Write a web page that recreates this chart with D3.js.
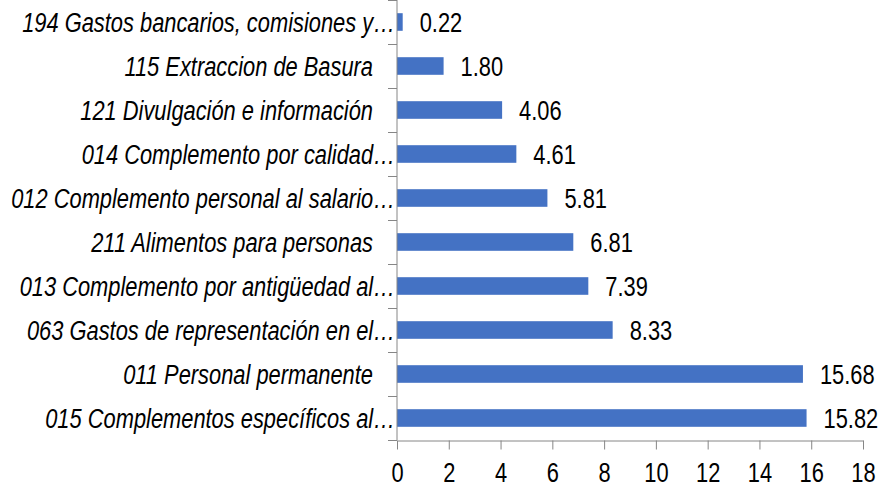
<!DOCTYPE html>
<html>
<head>
<meta charset="utf-8">
<script src="https://cdn.jsdelivr.net/npm/d3@7"></script>
<style>
  body { margin: 0; background: #fff; }
  text { font-family: "Liberation Sans", Arial, sans-serif; fill: #000; }
</style>
</head>
<body>
<div class="chart"></div>
<script>
// categories top to bottom
var categories = [
  '194 Gastos bancarios, comisiones y…',
  '115 Extraccion de Basura',
  '121 Divulgación e información',
  '014 Complemento por calidad…',
  '012 Complemento personal al salario…',
  '211 Alimentos para personas',
  '013 Complemento por antigüedad al…',
  '063 Gastos de representación en el…',
  '011 Personal permanente',
  '015 Complementos específicos al…'
];
var values = [0.22, 1.80, 4.06, 4.61, 5.81, 6.81, 7.39, 8.33, 15.68, 15.82];
var xTicks = [0, 2, 4, 6, 8, 10, 12, 14, 16, 18];

var margin = { top: 0, right: 18, bottom: 49, left: 397 };
var width = 881 - margin.left - margin.right;
var height = 489 - margin.top - margin.bottom;

// the original font is a narrow one, squeeze Liberation Sans to match
var fontSize = '27px';
var squeeze = 'scale(0.81,1)';

var svg = d3.select('.chart')
  .append('svg')
  .attr('width', 881)
  .attr('height', 489)
  .append('g')
  .attr('transform', `translate(${margin.left}, ${margin.top})`);

var xScale = d3.scaleLinear().domain([0, 18]).range([0, 466]);
var yScale = d3.scaleBand().domain(categories).range([0, height]).paddingInner(0.6).paddingOuter(0.3);

var axisColor = '#868686';

// bars
svg.selectAll('.bar')
  .data(values)
  .enter()
  .append('rect')
  .attr('class', 'bar')
  .attr('x', 0)
  .attr('y', (d, i) => yScale(categories[i]))
  .attr('width', d => xScale(d))
  .attr('height', yScale.bandwidth())
  .style('fill', '#4472C4');

// value labels
svg.selectAll('.val')
  .data(values)
  .enter()
  .append('text')
  .attr('class', 'val')
  .attr('transform', (d, i) =>
    `translate(${xScale(d) + 17},${yScale(categories[i]) + yScale.bandwidth() / 2}) ${squeeze}`)
  .attr('dy', '0.36em')
  .style('font-size', fontSize)
  .text(d => d.toFixed(2));

// category labels
svg.selectAll('.cat')
  .data(categories)
  .enter()
  .append('text')
  .attr('class', 'cat')
  .attr('transform', d =>
    `translate(${d.endsWith('…') ? -2 : -24},${yScale(d) + yScale.bandwidth() / 2}) ${squeeze}`)
  .attr('dy', '0.36em')
  .style('text-anchor', 'end')
  .style('font-style', 'italic')
  .style('font-size', fontSize)
  .text(d => d);

// left axis line + category ticks
var step = height / categories.length;
svg.append('line')
  .attr('x1', 0).attr('x2', 0)
  .attr('y1', 0).attr('y2', height)
  .style('stroke', axisColor);
svg.selectAll('.ytick')
  .data(d3.range(categories.length + 1))
  .enter()
  .append('line')
  .attr('class', 'ytick')
  .attr('x1', -9).attr('x2', 0)
  .attr('y1', d => Math.round(d * step) + 0.5)
  .attr('y2', d => Math.round(d * step) + 0.5)
  .style('stroke', axisColor);

// bottom axis
var xAxis = svg.append('g')
  .attr('transform', `translate(0, ${height + 0.5})`)
  .call(d3.axisBottom(xScale).tickValues(xTicks).tickSize(9).tickSizeOuter(0).tickPadding(13));
xAxis.select('.domain').style('stroke', axisColor);
xAxis.selectAll('line').style('stroke', axisColor);
xAxis.selectAll('text')
  .attr('transform', squeeze)
  .style('font-size', fontSize)
  .style('font-family', '"Liberation Sans", Arial, sans-serif')
  .style('fill', '#000');
</script>
</body>
</html>
